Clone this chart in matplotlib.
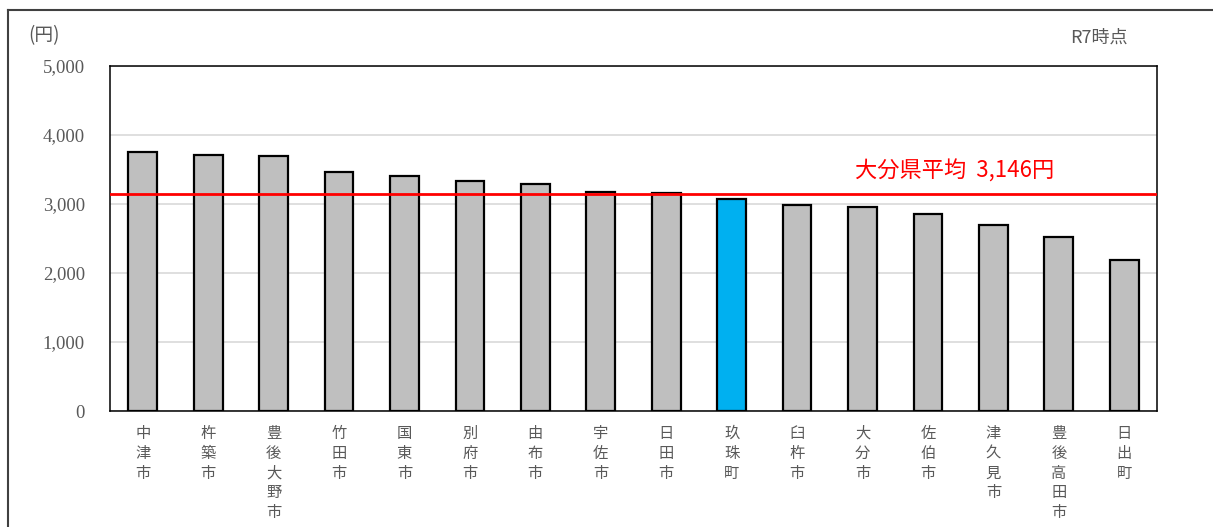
import matplotlib
matplotlib.use('Agg')
import matplotlib.pyplot as plt
from matplotlib.lines import Line2D

plt.rcParams['font.family'] = ['Noto Sans CJK JP', 'DejaVu Sans']

# data (R7, yen)
cities = ['中津市', '杵築市', '豊後大野市', '竹田市', '国東市', '別府市', '由布市', '宇佐市',
          '日田市', '玖珠町', '臼杵市', '大分市', '佐伯市', '津久見市', '豊後高田市', '日出町']
values = [3749, 3706, 3691, 3460, 3402, 3339, 3291, 3175,
          3165, 3078, 2990, 2951, 2850, 2694, 2519, 2189]
highlight = '玖珠町'
pref_avg = 3146
yticks = [0, 1000, 2000, 3000, 4000, 5000]

grey_txt = '#595959'

fig = plt.figure(figsize=(12.13, 5.27), dpi=100)
ax = fig.add_axes([110 / 1213, 1 - 411 / 527, 1047 / 1213, 345 / 527])

colors = ['#00b0f0' if c == highlight else '#bfbfbf' for c in cities]
x = list(range(len(cities)))
ax.bar(x, values, width=0.44, color=colors, edgecolor='black', linewidth=1.6, zorder=3)

ax.axhline(pref_avg, color='#ff0000', linewidth=2, zorder=4)
ax.text(10.88, pref_avg + 160, f'大分県平均  {pref_avg:,}円', color='#ff0000',
        fontsize=16, ha='left', va='bottom', zorder=5)

ax.set_xlim(-0.5, len(cities) - 0.5)
ax.set_ylim(0, 5000)
ax.set_yticks(yticks)
ax.set_yticklabels([f'{v:,}' for v in yticks], family=['Liberation Serif', 'DejaVu Serif'],
                   fontsize=13.5, color=grey_txt)
ax.set_xticks(x)
ax.set_xticklabels(['\n'.join(c) for c in cities], fontsize=11, color=grey_txt,
                   va='top', linespacing=1.22)
ax.tick_params(axis='both', length=0)
ax.tick_params(axis='y', pad=18)
ax.tick_params(axis='x', pad=10)
ax.yaxis.grid(True, color='#d9d9d9', linewidth=1.2, zorder=0)
ax.set_axisbelow(True)
for s in ax.spines.values():
    s.set_linewidth(1.1)
    s.set_color('black')

fig.text(44 / 1213, 1 - 36 / 527, '(円)', fontsize=13.5, color=grey_txt, ha='center', va='center')
fig.text(1099 / 1213, 1 - 38 / 527, 'R7時点', fontsize=13, color=grey_txt, ha='center', va='center')

# outer chart frame (partly cropped in the reference)
fig.add_artist(Line2D([8 / 1213, 8 / 1213], [0, 1 - 10 / 527], color='#404040', linewidth=1.5))
fig.add_artist(Line2D([8 / 1213, 1], [1 - 10 / 527, 1 - 10 / 527], color='#404040', linewidth=1.5))

fig.savefig('out.png', dpi=100)
